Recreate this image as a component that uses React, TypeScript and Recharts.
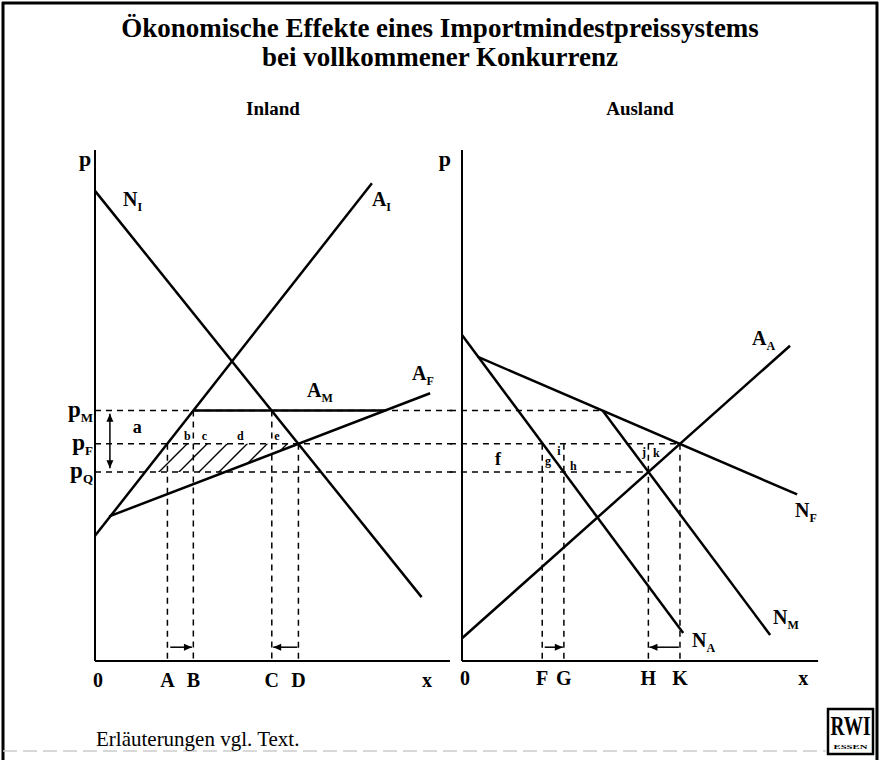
import React from "react";
import { ComposedChart, Line, Area, XAxis, YAxis, ReferenceLine, ReferenceDot } from "recharts";

const SERIF = "'Liberation Serif', 'Times New Roman', serif";

// price levels on the p axis (0..100)
const pM = 49;
const pF = 42.5;
const pQ = 37;

// Inland: demand N_I, supply A_I, foreign supply A_F, min price supply A_M
const nInland = [
  { q: 0, p: 92 },
  { q: 92, p: 12.5 },
];
const aInland = [
  { q: 0, p: 24.5 },
  { q: 78, p: 93.5 },
];
const aForeign = [
  { q: 4, p: 28.3 },
  { q: 94.4, p: 52.4 },
];
const aMin = [
  { q: 27.7, p: pM },
  { q: 81.7, p: pM },
];
const hatchBand = [
  { q: 14.1, band: [pQ, pQ] },
  { q: 20.4, band: [pQ, pF] },
  { q: 36.7, band: [pQ, pF] },
  { q: 57.3, band: [pF, pF] },
];
const inlandMarks = [
  { q: 0, label: "0" },
  { q: 20.4, label: "A" },
  { q: 27.7, label: "B" },
  { q: 49.8, label: "C" },
  { q: 57.3, label: "D" },
  { q: 93.5, label: "x" },
];
const inlandDrops = [
  { q: 20.4, p: pF },
  { q: 27.7, p: pM },
  { q: 49.8, p: pM },
  { q: 57.3, p: pF },
];
const inlandShifts = [
  { from: 21.2, to: 27.3 },
  { from: 57.0, to: 50.2 },
];

// Ausland: demand N_A, total demand N_F, demand at min price N_M, supply A_A
const nAusland = [
  { q: 0, p: 63.8 },
  { q: 62.3, p: 5.5 },
];
const nForeign = [
  { q: 4.5, p: 59.5 },
  { q: 94.4, p: 32.6 },
];
const nMin = [
  { q: 39.6, p: pM },
  { q: 86.8, p: 5.1 },
];
const aAusland = [
  { q: 0, p: 4.45 },
  { q: 92.4, p: 61.7 },
];
const auslandMarks = [
  { q: 0, label: "0" },
  { q: 22.6, label: "F" },
  { q: 28.7, label: "G" },
  { q: 52.5, label: "H" },
  { q: 61.4, label: "K" },
  { q: 96.1, label: "x" },
];
const auslandDrops = [
  { q: 22.6, p: pF },
  { q: 28.7, p: pF },
  { q: 52.5, p: pF },
  { q: 61.4, p: pF },
];
const auslandShifts = [
  { from: 23.3, to: 28.4 },
  { from: 61.1, to: 52.8 },
];
// where the price lines end in the Ausland panel
const auslandPriceEnds = [
  { p: pM, q: 39.6 },
  { p: pF, q: 61.4 },
  { p: pQ, q: 52.5 },
];

const inlandLabels = [
  { text: "N", sub: "I", q: 7.9, p: 89, size: 20 },
  { text: "A", sub: "I", q: 78, p: 89, size: 20 },
  { text: "A", sub: "F", q: 89.3, p: 55, size: 20 },
  { text: "A", sub: "M", q: 59.7, p: 51.7, size: 20 },
  { text: "a", q: 10.6, p: 44.6, size: 18 },
  { text: "b", q: 25.1, p: 43.3, size: 12 },
  { text: "c", q: 30.1, p: 43.3, size: 12 },
  { text: "d", q: 40.0, p: 43.3, size: 12 },
  { text: "e", q: 50.5, p: 43.3, size: 12 },
];
const auslandLabels = [
  { text: "A", sub: "A", q: 81.7, p: 61.8, size: 20 },
  { text: "N", sub: "F", q: 93.8, p: 28.2, size: 20 },
  { text: "N", sub: "M", q: 87.6, p: 7.2, size: 20 },
  { text: "N", sub: "A", q: 64.8, p: 2.7, size: 20 },
  { text: "f", q: 9.3, p: 38.4, size: 18 },
  { text: "g", q: 23.4, p: 38.4, size: 12 },
  { text: "i", q: 26.8, p: 40.3, size: 12 },
  { text: "h", q: 30.4, p: 37.4, size: 12 },
  { text: "j", q: 50.7, p: 40.1, size: 12 },
  { text: "k", q: 53.8, p: 39.9, size: 12 },
];

const priceNames: Record<string, string> = { [String(pM)]: "M", [String(pF)]: "F", [String(pQ)]: "Q" };

const PriceTick = (props: any) => {
  const { x, y, payload } = props;
  return (
    <text x={x} y={y + 6} textAnchor="end" fontFamily={SERIF} fontWeight="bold" fontSize={23} fill="#000">
      <tspan>p</tspan>
      <tspan fontSize={13} dy={5}>
        {priceNames[String(payload.value)]}
      </tspan>
    </text>
  );
};

const makeQtyTick = (marks: { q: number; label: string }[], dy: number) => (props: any) => {
  const { x, y, payload } = props;
  const m = marks.find((mm) => Math.abs(mm.q - payload.value) < 0.01);
  if (!m) return null;
  return (
    <text x={x + (m.label === "0" ? 3 : 0)} y={y + dy} textAnchor="middle" fontFamily={SERIF} fontWeight="bold" fontSize={20} fill="#000">
      {m.label}
    </text>
  );
};

const makeTag = (text: string, sub: string | undefined, size: number, anchor = "start") => (props: any) => (
  <text x={props.cx} y={props.cy} textAnchor={anchor} fontFamily={SERIF} fontWeight="bold" fontSize={size} fill="#000">
    <tspan>{text}</tspan>
    {sub ? (
      <tspan fontSize={Math.round(size * 0.6)} dy={5}>
        {sub}
      </tspan>
    ) : null}
  </text>
);

const arrowShape = (both: boolean) => (props: any) => {
  const { x1, y1, x2, y2 } = props;
  const ang = Math.atan2(y2 - y1, x2 - x1);
  const len = 8;
  const w = 3.5;
  const head = (hx: number, hy: number, a: number) => {
    const bx = hx - len * Math.cos(a);
    const by = hy - len * Math.sin(a);
    const px = -Math.sin(a) * w;
    const py = Math.cos(a) * w;
    return <polygon points={`${hx},${hy} ${bx + px},${by + py} ${bx - px},${by - py}`} fill="#000" />;
  };
  return (
    <g>
      <line x1={x1} y1={y1} x2={x2} y2={y2} stroke="#000" strokeWidth={1.5} />
      {head(x2, y2, ang)}
      {both ? head(x1, y1, ang + Math.PI) : null}
    </g>
  );
};

const dash = { stroke: "#000", strokeWidth: 1.5, strokeDasharray: "6 5" };
const axisStroke = { stroke: "#000", strokeWidth: 2 };
const curve = { type: "linear" as const, dataKey: "p", stroke: "#000", strokeWidth: 2.5, dot: false, isAnimationActive: false, yAxisId: "p" };

export default function App() {
  return (
    <div style={{ position: "absolute", left: 0, top: 0, width: 880, height: 760, background: "#fff" }}>
      <svg width={880} height={760} style={{ position: "absolute", left: 0, top: 0 }}>
        <line x1={3} y1={2} x2={3} y2={760} stroke="#000" strokeWidth={3} />
        <line x1={2} y1={3} x2={878} y2={3} stroke="#000" strokeWidth={3} />
        <line x1={877} y1={2} x2={877} y2={760} stroke="#000" strokeWidth={3} />
        <line x1={3} y1={751} x2={826} y2={751} stroke="#ccc" strokeWidth={1.5} strokeDasharray="14 6" />
        <text x={440} y={37} textAnchor="middle" fontFamily={SERIF} fontWeight="bold" fontSize={27}>
          Ökonomische Effekte eines Importmindestpreissystems
        </text>
        <text x={440} y={66} textAnchor="middle" fontFamily={SERIF} fontWeight="bold" fontSize={27}>
          bei vollkommener Konkurrenz
        </text>
        <text x={273} y={115} textAnchor="middle" fontFamily={SERIF} fontWeight="bold" fontSize={19}>
          Inland
        </text>
        <text x={640} y={115} textAnchor="middle" fontFamily={SERIF} fontWeight="bold" fontSize={19}>
          Ausland
        </text>
        <text x={96} y={746} fontFamily={SERIF} fontSize={21}>
          Erläuterungen vgl. Text.
        </text>
        <rect x={828} y={709} width={45} height={45} fill="#fff" stroke="#000" strokeWidth={2.5} />
        <text x={850.5} y={735} textAnchor="middle" fontFamily={SERIF} fontWeight="bold" fontSize={28} textLength={40} lengthAdjust="spacingAndGlyphs">
          RWI
        </text>
        <text x={850.5} y={749} textAnchor="middle" fontFamily={SERIF} fontWeight="bold" fontSize={7} textLength={34} lengthAdjust="spacingAndGlyphs">
          ESSEN
        </text>
      </svg>

      <div style={{ position: "absolute", left: 0, top: 0 }}>
        <ComposedChart width={880} height={760} margin={{ top: 150, right: 60, bottom: 97, left: 55 }}>
          <defs>
            <pattern id="hatch" patternUnits="userSpaceOnUse" x={11} y={0} width={20} height={20}>
              <path d="M-5,5 L5,-5 M0,20 L20,0 M15,25 L25,15" stroke="#000" strokeWidth={1.4} />
            </pattern>
          </defs>
          <XAxis
            xAxisId="in"
            type="number"
            dataKey="q"
            domain={[0, 725 / 3.55]}
            allowDataOverflow
            ticks={inlandMarks.map((m) => m.q)}
            tick={makeQtyTick(inlandMarks, 25)}
            axisLine={false}
            tickLine={false}
            tickSize={0}
            tickMargin={0}
            height={1}
            interval={0}
          />
          <XAxis
            xAxisId="aus"
            type="number"
            dataKey="q"
            domain={[-367 / 3.55, 358 / 3.55]}
            allowDataOverflow
            ticks={auslandMarks.map((m) => m.q)}
            tick={makeQtyTick(auslandMarks, 24)}
            axisLine={false}
            tickLine={false}
            tickSize={0}
            tickMargin={0}
            height={1}
            interval={0}
          />
          <YAxis
            yAxisId="p"
            type="number"
            domain={[0, 100]}
            allowDataOverflow
            ticks={[pQ, pF, pM]}
            tick={PriceTick}
            axisLine={axisStroke}
            tickLine={false}
            tickSize={0}
            tickMargin={2}
            width={40}
            interval={0}
          />

          <Area
            xAxisId="in"
            yAxisId="p"
            data={hatchBand}
            dataKey="band"
            type="linear"
            fill="url(#hatch)"
            fillOpacity={1}
            stroke="none"
            isAnimationActive={false}
          />

          {/* axes of both panels */}
          <ReferenceLine xAxisId="in" yAxisId="p" segment={[{ x: 0, y: 0 }, { x: 100, y: 0 }]} {...axisStroke} ifOverflow="visible" />
          <ReferenceLine xAxisId="aus" yAxisId="p" segment={[{ x: 0, y: 0 }, { x: 0, y: 100 }]} {...axisStroke} ifOverflow="visible" />
          <ReferenceLine xAxisId="aus" yAxisId="p" segment={[{ x: 0, y: 0 }, { x: 100.3, y: 0 }]} {...axisStroke} ifOverflow="visible" />

          {/* price lines across both panels */}
          {[pM, pF, pQ].map((p) => (
            <ReferenceLine key={`in-${p}`} xAxisId="in" yAxisId="p" segment={[{ x: 0, y: p }, { x: 100.6, y: p }]} {...dash} ifOverflow="visible" />
          ))}
          {auslandPriceEnds.map((e) => (
            <ReferenceLine key={`aus-${e.p}`} xAxisId="aus" yAxisId="p" segment={[{ x: -3.4, y: e.p }, { x: e.q, y: e.p }]} {...dash} ifOverflow="visible" />
          ))}

          {/* quantity drop lines */}
          {inlandDrops.map((d) => (
            <ReferenceLine key={`di-${d.q}`} xAxisId="in" yAxisId="p" segment={[{ x: d.q, y: d.p }, { x: d.q, y: 0 }]} {...dash} ifOverflow="visible" />
          ))}
          {auslandDrops.map((d) => (
            <ReferenceLine key={`da-${d.q}`} xAxisId="aus" yAxisId="p" segment={[{ x: d.q, y: d.p }, { x: d.q, y: 0 }]} {...dash} ifOverflow="visible" />
          ))}

          {/* shift arrows */}
          {inlandShifts.map((s) => (
            <ReferenceLine key={`si-${s.from}`} xAxisId="in" yAxisId="p" segment={[{ x: s.from, y: 2.7 }, { x: s.to, y: 2.7 }]} shape={arrowShape(false)} ifOverflow="visible" />
          ))}
          {auslandShifts.map((s) => (
            <ReferenceLine key={`sa-${s.from}`} xAxisId="aus" yAxisId="p" segment={[{ x: s.from, y: 2.7 }, { x: s.to, y: 2.7 }]} shape={arrowShape(false)} ifOverflow="visible" />
          ))}
          <ReferenceLine xAxisId="in" yAxisId="p" segment={[{ x: 4.2, y: 37.7 }, { x: 4.2, y: 48.4 }]} shape={arrowShape(true)} ifOverflow="visible" />

          {/* curves */}
          <Line xAxisId="in" data={nInland} {...curve} />
          <Line xAxisId="in" data={aInland} {...curve} />
          <Line xAxisId="in" data={aForeign} {...curve} />
          <Line xAxisId="in" data={aMin} {...curve} />
          <Line xAxisId="aus" data={nAusland} {...curve} />
          <Line xAxisId="aus" data={nForeign} {...curve} />
          <Line xAxisId="aus" data={nMin} {...curve} />
          <Line xAxisId="aus" data={aAusland} {...curve} />

          {/* axis names */}
          <ReferenceDot xAxisId="in" yAxisId="p" x={-2.8} y={96.9} r={0} ifOverflow="visible" shape={makeTag("p", undefined, 22, "middle")} />
          <ReferenceDot xAxisId="aus" yAxisId="p" x={-4.8} y={96.9} r={0} ifOverflow="visible" shape={makeTag("p", undefined, 22, "middle")} />

          {inlandLabels.map((l, i) => (
            <ReferenceDot key={`li-${i}`} xAxisId="in" yAxisId="p" x={l.q} y={l.p} r={0} ifOverflow="visible" shape={makeTag(l.text, l.sub, l.size)} />
          ))}
          {auslandLabels.map((l, i) => (
            <ReferenceDot key={`la-${i}`} xAxisId="aus" yAxisId="p" x={l.q} y={l.p} r={0} ifOverflow="visible" shape={makeTag(l.text, l.sub, l.size)} />
          ))}
        </ComposedChart>
      </div>
    </div>
  );
}
